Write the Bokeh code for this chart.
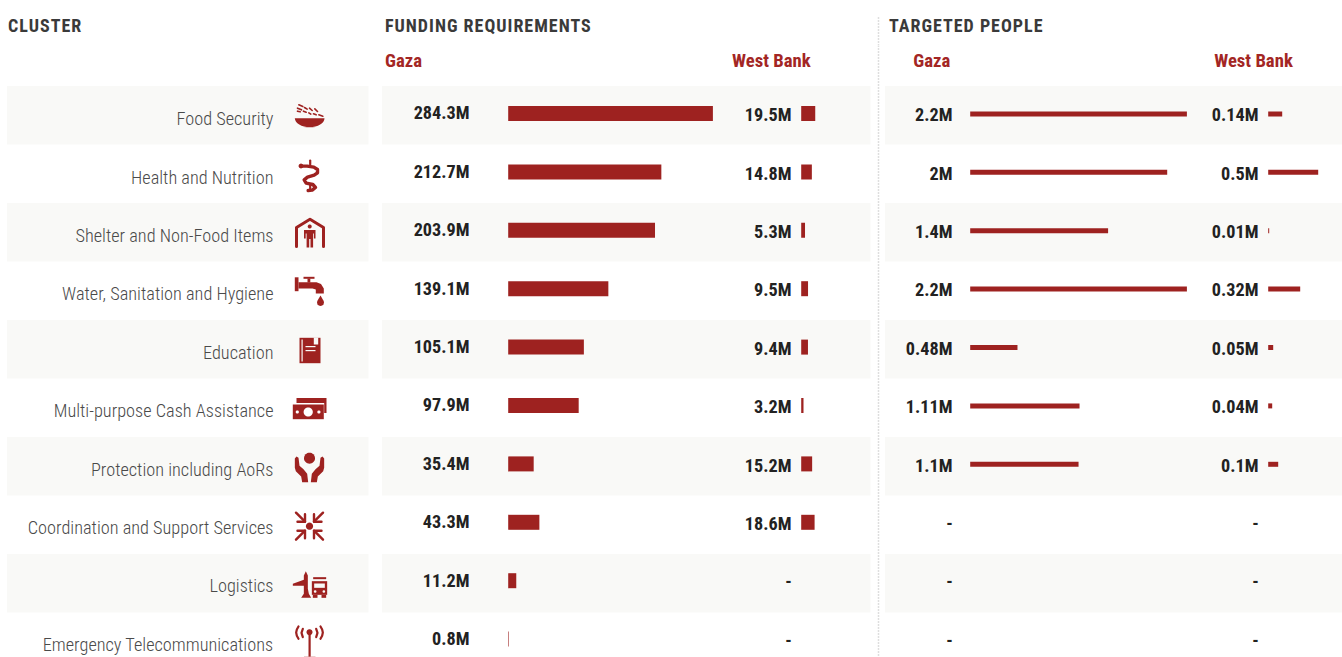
import math
from bokeh.plotting import figure
from bokeh.layouts import column as stack
from bokeh.models import Range1d
from bokeh.core.properties import value
from bokeh.embed import file_html
from bokeh.resources import INLINE

clusters = ["Food Security", "Health and Nutrition", "Shelter and Non-Food Items",
            "Water, Sanitation and Hygiene", "Education", "Multi-purpose Cash Assistance",
            "Protection including AoRs", "Coordination and Support Services", "Logistics",
            "Emergency Telecommunications"]
funding_gaza = [284.3, 212.7, 203.9, 139.1, 105.1, 97.9, 35.4, 43.3, 11.2, 0.8]
funding_wb = [19.5, 14.8, 5.3, 9.5, 9.4, 3.2, 15.2, 18.6, None, None]
people_gaza = [2.2, 2, 1.4, 2.2, 0.48, 1.11, 1.1, None, None, None]
people_wb = [0.14, 0.5, 0.01, 0.32, 0.05, 0.04, 0.1, None, None, None]

RED = "#9e2220"
BAND = "#f9f9f7"
W, H = 1342, 657
HEAD = 45
ROW_TOP, ROW_H = 85.6, 58.5
PITCH = 58.4 / ROW_H   # the row contents sit a touch tighter than the bands
FONT = value("Roboto Condensed")
LIGHT = value("Roboto Condensed Light")

def bare(fig):
    fig.axis.visible = False
    fig.grid.visible = False
    fig.outline_line_color = None
    return fig

# top strip: the section titles, letter-spaced as a block
top = bare(figure(width=W, height=HEAD, output_backend="svg", toolbar_location=None,
                  x_range=Range1d(0, W), y_range=Range1d(HEAD, 0), min_border=0, margin=(0, 0, 0, 0),
                  styles={"letter-spacing": "1px"}))
for x, t in [(7.5, "CLUSTER"), (384.5, "FUNDING REQUIREMENTS"), (888.5, "TARGETED PEOPLE")]:
    top.text([x], [25], text=[t], text_font=FONT, text_font_style="bold", text_font_size="18px",
             text_color="#3a3a3a", text_align="left", text_baseline="middle")
top.line([878, 878], [17, HEAD], line_color="#bdbdbd", line_width=1.5, line_dash="1 2")

# main table; page y = HEAD + canvas y
p = bare(figure(width=W, height=H - HEAD, output_backend="svg", toolbar_location=None,
                x_range=Range1d(0, W),
                y_range=Range1d((H - ROW_TOP) / ROW_H, (HEAD - ROW_TOP) / ROW_H),
                min_border=0, margin=(0, 0, 0, 0)))
p.extra_y_ranges["px"] = Range1d(H, HEAD)

def scale(name, x0, per_unit):
    p.extra_x_ranges[name] = Range1d(-x0 / per_unit, (W - x0) / per_unit)

scale("fg", 507.7, 204.7 / 284.3)
scale("fw", 800.7, 204.7 / 284.3)
scale("pg", 969.7, 216.7 / 2.2)
scale("pw", 1267.7, 100.0)

idx = list(range(len(clusters)))
rows = [i * PITCH for i in idx]
shaded = [i for i in idx if i % 2 == 0]

for x0, x1 in [(6.6, 368), (381.6, 870), (884.6, W)]:
    p.quad(left=[x0] * len(shaded), right=[x1] * len(shaded),
           top=shaded, bottom=[i + 1 for i in shaded], fill_color=BAND, line_color=None)

p.line([878, 878], [HEAD, H], y_range_name="px", line_color="#bdbdbd", line_width=1.5, line_dash="1 2")

for x, t in [(384.5, "Gaza"), (731.5, "West Bank"), (912.7, "Gaza"), (1213.7, "West Bank")]:
    p.text([x], [60.5], text=[t], y_range_name="px", text_font=FONT, text_font_style="bold",
           text_font_size="18.7px", text_color="#a32624", text_align="left", text_baseline="middle")

p.text([273] * len(idx), rows, text=clusters, text_font=LIGHT, text_font_size="18.3px", text_color="#4a4a4a",
       text_align="right", text_baseline="middle", y_offset=32.6)

def fmt(v):
    return "-" if v is None else f"{v:g}M"

def column(vals, rng, xr, yoff, bar_h, dash_x, bar_off):
    have = [i for i in idx if vals[i] is not None]
    p.hbar(y=[rows[i] + bar_off / ROW_H for i in have], left=0, right=[vals[i] for i in have],
           height=bar_h / ROW_H, x_range_name=rng, fill_color=RED, line_color=None)
    p.text([xr] * len(have), [rows[i] for i in have], text=[fmt(vals[i]) for i in have], text_font=FONT,
           text_font_style="bold", text_font_size="18.2px", text_color="#222222", text_align="right",
           text_baseline="middle", y_offset=yoff)
    none = [i for i in idx if vals[i] is None]
    if none:
        p.text([dash_x] * len(none), [rows[i] for i in none], text=["-"] * len(none), text_font=FONT,
               text_font_style="bold", text_font_size="18px", text_color="#222222", text_align="center",
               text_baseline="middle", y_offset=28.4)

column(funding_gaza, "fg", 469, 26.8, 15, 469, 27.4)
column(funding_wb, "fw", 791, 28.6, 15, 788, 27.4)
column(people_gaza, "pg", 952, 28.6, 5, 949, 27.8)
column(people_wb, "pw", 1258, 28.6, 5, 1255, 27.8)

# ---- pictograms, in page pixels
def poly(pts, color=RED):
    p.patch([a for a, _ in pts], [b for _, b in pts], y_range_name="px", fill_color=color, line_color=None)

def stroke(pts, w=2.0, color=RED):
    p.line([a for a, _ in pts], [b for _, b in pts], y_range_name="px", line_color=color, line_width=w,
           line_join="round", line_cap="round")

def disc(cx, cy, r, color=RED, ry=None):
    ry = r if ry is None else ry
    poly([(cx + r * math.cos(t / 16 * math.pi), cy + ry * math.sin(t / 16 * math.pi)) for t in range(32)], color)

def rect(x0, y0, x1, y1, color=RED):
    poly([(x0, y0), (x1, y0), (x1, y1), (x0, y1)], color)

def z(ox, oy, pts):
    return [(ox + a / 3, oy + b / 3) for a, b in pts]

# food: bowl and grains
poly([(294.3, 117.7), (324, 117.7)] + [(309.2 + 14.8 * math.cos(t / 8 * math.pi / 2), 117.7 + 9 * math.sin(t / 8 * math.pi / 2)) for t in range(1, 8)]
     + [(309.2 + 6, 126.8), (309.2 - 6, 126.8)] + [(309.2 - 14.8 * math.sin(t / 8 * math.pi / 2), 117.7 + 9 * math.cos(t / 8 * math.pi / 2)) for t in range(1, 8)])
for a, b in [((40, 28), (52, 33)), ((36, 38), (48, 43)), ((57, 36), (65, 41)), ((72, 38), (80, 45)), ((88, 40), (96, 48)),
             ((36, 47), (44, 49)), ((54, 47), (62, 50)), ((70, 52), (76, 56)), ((84, 55), (92, 58)), ((100, 58), (112, 62))]:
    stroke(z(285, 95, [a, b]), 1.6)

# health: staff and serpent
stroke([(309.7, 160), (309.7, 164)], 2.2)
stroke([(309.7, 184), (309.7, 189)], 2.2)
disc(300.5, 165.5, 2.4)
stroke(z(285, 95, [(48, 212), (65, 212), (85, 215), (96, 222), (96, 232), (86, 239), (66, 245), (56, 253), (62, 263), (82, 267), (90, 276), (80, 284), (68, 285)]), 3.4)

# shelter: house and person
stroke([(296, 246), (296, 227), (309.5, 218.8), (323, 227), (323, 246)], 3.0)
disc(309.2, 226, 2)
poly([(303.5, 229.5), (315, 229.5), (315, 238), (313.4, 238), (313.4, 233), (312.6, 233), (312.6, 247), (310, 247), (310, 238.5), (308.7, 238.5),
      (308.7, 247), (306.1, 247), (306.1, 233), (305.2, 233), (305.2, 238), (303.5, 238)])

# water: tap and drop
rect(294.3, 276.8, 298, 290.7)
poly([(298, 281.8), (316, 281.8), (320.5, 283.5), (323.3, 288), (323.3, 293), (315.3, 293), (315.3, 289), (312, 288), (298, 288)])
rect(307, 278, 309.8, 282)
rect(303, 276.3, 314, 278.3)
poly([(320, 295), (323.2, 300.5)] + [(320 + 3.5 * math.cos(t / 6 * math.pi), 302 + 3.5 * math.sin(t / 6 * math.pi)) for t in range(0, 7)] + [(316.8, 300.5)])

# education: book
rect(299, 337.3, 320, 362.7)
rect(301, 339, 302.2, 361, BAND)
rect(313.3, 337, 317.7, 344, BAND)
rect(305, 345.5, 315, 346.7, BAND)
rect(305, 349.5, 315, 350.7, BAND)

# cash: banknotes
poly([(296, 397.5), (326, 397.5), (326, 412.5), (323.7, 412.5), (323.7, 402.5), (296, 402.5)])
rect(292.3, 404, 323.3, 418.7)
disc(307.7, 411.5, 4.6, "white")
disc(296.8, 411.5, 1.6, "white")
disc(318.4, 411.5, 1.6, "white")

# protection: hands and person
disc(309, 457.7, 5.5)
hand = [(73, 54), (78, 48), (84, 52), (87, 76), (99, 86), (110, 100), (113, 125), (95, 125), (92, 108), (76, 92), (73, 82)]
poly(z(270, 440, hand))
poly(z(270, 440, [(234 - a, b) for a, b in hand]))

# coordination: converging arrows
disc(309, 525.7, 3.6)
for sx, sy in [(-1, -1), (1, -1), (-1, 1), (1, 1)]:
    c = (309, 525.7)
    tip = (c[0] + sx * 4.5, c[1] + sy * 4.5)
    tail = (c[0] + sx * 13.5, c[1] + sy * 13.5)
    stroke([tail, tip], 2.4)
    stroke([(tip[0] + sx * 7.5, tip[1]), tip, (tip[0], tip[1] + sy * 7.5)], 2.4)

# logistics: plane and truck
poly(z(270, 440, [(106, 392), (112, 405), (112, 445), (115, 460), (122, 472), (92, 472), (100, 460), (100, 436), (67, 436), (67, 430), (100, 418), (100, 405)]))
rect(270 + 128 / 3, 440 + 410 / 3, 270 + 167 / 3, 440 + 416 / 3)
rect(270 + 124 / 3, 440 + 422 / 3, 270 + 170 / 3, 440 + 463 / 3)
rect(270 + 127 / 3, 440 + 463 / 3, 270 + 141 / 3, 440 + 472 / 3)
rect(270 + 153 / 3, 440 + 463 / 3, 270 + 167 / 3, 440 + 472 / 3)
rect(270 + 131 / 3, 440 + 429 / 3, 270 + 163 / 3, 440 + 442 / 3, BAND)
disc(270 + 134 / 3, 440 + 453 / 3, 1.3, BAND)
disc(270 + 160 / 3, 440 + 453 / 3, 1.3, BAND)

# telecom: antenna
disc(309, 631.7, 3)
rect(308, 632, 310.2, 657)
rect(303.5, 656, 315, 657, "#d99b9a")
for pts in ([(84, 558), (79, 567), (77, 576), (79, 586), (84, 595)], [(97, 565), (93, 577), (97, 590)]):
    stroke(z(270, 440, pts), 2.2)
    stroke(z(270, 440, [(234 - a, b) for a, b in pts]), 2.2)

page = stack(top, p, spacing=0, margin=(0, 0, 0, 0))
open("out.html", "w").write(file_html(page, INLINE))
